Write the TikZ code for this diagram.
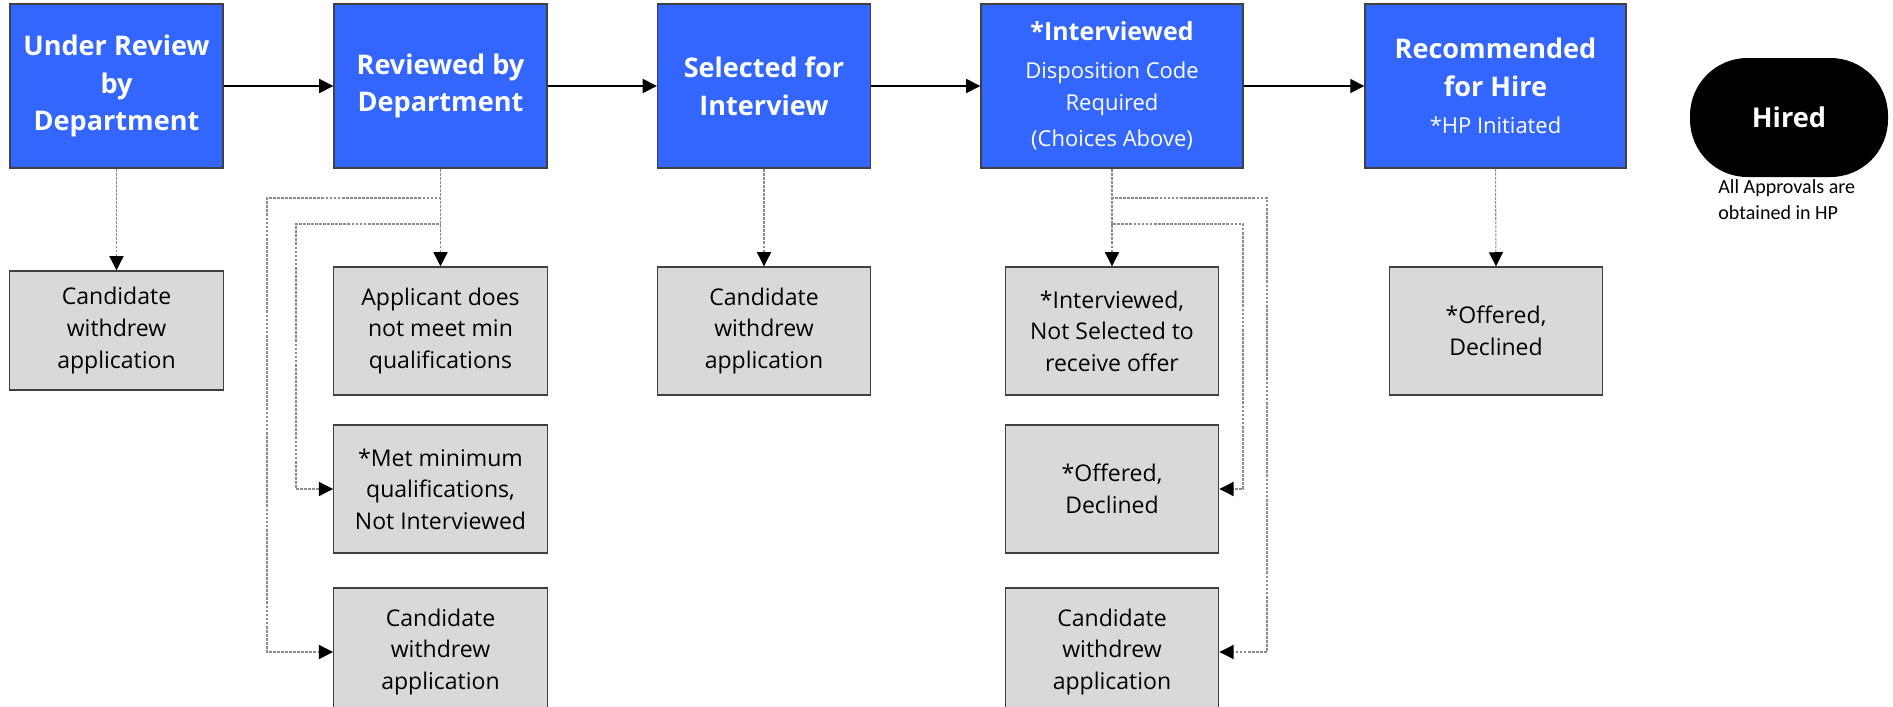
\documentclass[tikz,border=0pt]{standalone}
\usepackage{fontspec}
\setmainfont{Open Sans}
\newfontfamily\notefont{Carlito}
\usetikzlibrary{positioning, arrows.meta}
\definecolor{stageblue}{RGB}{51,102,255}
\definecolor{outcomegray}{RGB}{217,217,217}
\definecolor{edgegray}{RGB}{64,64,64}
\definecolor{linkgray}{RGB}{140,140,140}
\newcommand{\subline}{\fontsize{12.5}{18}\selectfont\mdseries}
\tikzset{stage/.style={draw=edgegray,line width=0.8pt,fill=stageblue,text=white,minimum width=4.26cm,minimum height=3.28cm,inner sep=0pt,align=center,font=\fontsize{15.4}{21.5}\selectfont\bfseries},
         outcome/.style={draw=edgegray,line width=0.8pt,fill=outcomegray,minimum width=4.27cm,minimum height=2.56cm,inner sep=0pt,align=center,font=\fontsize{13.1}{18}\selectfont},
         hired/.style={fill=black,text=white,rounded corners=1.15cm,minimum width=3.96cm,minimum height=2.38cm,font=\fontsize{15.5}{20}\selectfont\bfseries},
         note/.style={inner sep=0pt,align=left,font=\notefont\fontsize{11.4}{14.8}\selectfont},
         flow/.style={line width=0.85pt,-{Triangle[length=8pt,width=8pt]}},
         branch/.style={linkgray,line width=0.6pt,dash pattern=on 1.6pt off 0.7pt,-{Triangle[length=8pt,width=8pt,color=black]}},
        }
\begin{document}
\begin{tikzpicture}
        \path[use as bounding box,clip](0,0)rectangle(37.86,-14.14);

        \node[stage](s1)at(2.33,-1.72){Under Review\\by\\Department};
        \node[stage](s2)at(8.81,-1.72){Reviewed by\\Department};
        \node[stage](s3)at(15.28,-1.72){Selected for\\Interview};
        \node[stage,minimum width=5.24cm](s4)at(22.24,-1.72){{\fontsize{14.2}{20}\selectfont *Interviewed}\\[0pt]{\subline Disposition Code}\\[-3pt]{\subline Required}\\[-1pt]{\subline (Choices Above)}};
        \node[stage,minimum width=5.22cm](s5)at(29.91,-1.72){Recommended\\for Hire\\{\subline *HP Initiated}};
        \node[hired](h)at(35.78,-2.35){Hired};
        \node[note,anchor=north west](hn)at(34.36,-3.58){All Approvals are\\obtained in HP};

        \node[outcome,minimum height=2.38cm](o1)at(2.33,-6.61){Candidate\\withdrew\hspace*{.7em}\\application};
        \node[outcome](o2a)at(8.81,-6.62){Applicant does\\not meet min\\qualifications};
        \node[outcome](o2b)at(8.81,-9.78){*Met minimum\\qualifications,\\Not Interviewed};
        \node[outcome](o2c)at(8.81,-13.04){Candidate\\withdrew\hspace*{.7em}\\application};
        \node[outcome](o3)at(15.28,-6.62){Candidate\\withdrew\hspace*{.7em}\\application};
        \node[outcome](o4a)at(22.24,-6.62){*Interviewed,\\Not Selected to\\receive offer};
        \node[outcome](o4b)at(22.24,-9.78){*Offered,\\Declined};
        \node[outcome](o4c)at(22.24,-13.04){Candidate\\withdrew\hspace*{.7em}\\application};
        \node[outcome](o5)at(29.92,-6.62){*Offered,\\Declined};

        \coordinate(k2a)at(5.34,-3.96);
        \coordinate(k2b)at(5.92,-4.48);
        \coordinate(k4a)at(25.34,-3.96);
        \coordinate(k4b)at(24.86,-4.48);

        \draw[flow](s1.east)--(s2.west);
        \draw[flow](s2.east)--(s3.west);
        \draw[flow](s3.east)--(s4.west);
        \draw[flow](s4.east)--(s5.west);

        \draw[branch](s1.south)--(o1.north);
        \draw[branch](s2.south)--(o2a.north);
        \draw[branch](s2.south)|-(k2b)|-(o2b.west);
        \draw[branch](s2.south)|-(k2a)|-(o2c.west);
        \draw[branch](s3.south)--(o3.north);
        \draw[branch](s4.south)--(o4a.north);
        \draw[branch](s4.south)|-(k4b)|-(o4b.east);
        \draw[branch](s4.south)|-(k4a)|-(o4c.east);
        \draw[branch](s5.south)--(o5.north);
    \end{tikzpicture}
\end{document}
